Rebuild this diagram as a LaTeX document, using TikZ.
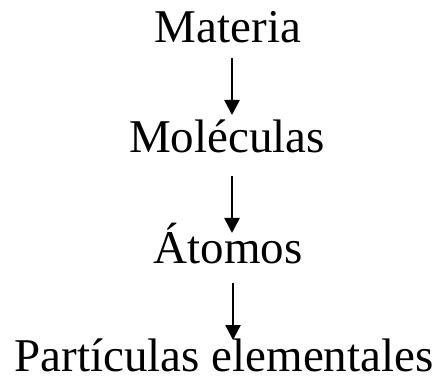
\documentclass[tikz,border=0pt]{standalone}
\usepackage{fontspec}
\setmainfont{Liberation Serif}
\usetikzlibrary{arrows.meta}
\begin{document}
\begin{tikzpicture}[x=1pt,y=1pt,
  lbl/.style={anchor=base,inner sep=0pt,text depth=0pt,font=\fontsize{47}{56}\selectfont},
  arr/.style={line width=2.6pt,-{Triangle[width=15pt,length=15pt]}}]
\useasboundingbox (0,0) rectangle (444,375);
\node[lbl] (mat) at (228,332) {Materia};
\node[lbl] (mol) at (227,222) {Moléculas};
\node[lbl] (ato) at (228,112) {Átomos};
\node[lbl] (par) at (224,4) {Partículas elementales};
\coordinate (a1s) at (232,317); \coordinate (a1e) at (232,260);
\coordinate (a2s) at (232,199); \coordinate (a2e) at (232,142);
\coordinate (a3s) at (233,92);  \coordinate (a3e) at (233,35);
\draw[arr] (a1s) -- (a1e);
\draw[arr] (a2s) -- (a2e);
\draw[arr] (a3s) -- (a3e);
\end{tikzpicture}
\end{document}
